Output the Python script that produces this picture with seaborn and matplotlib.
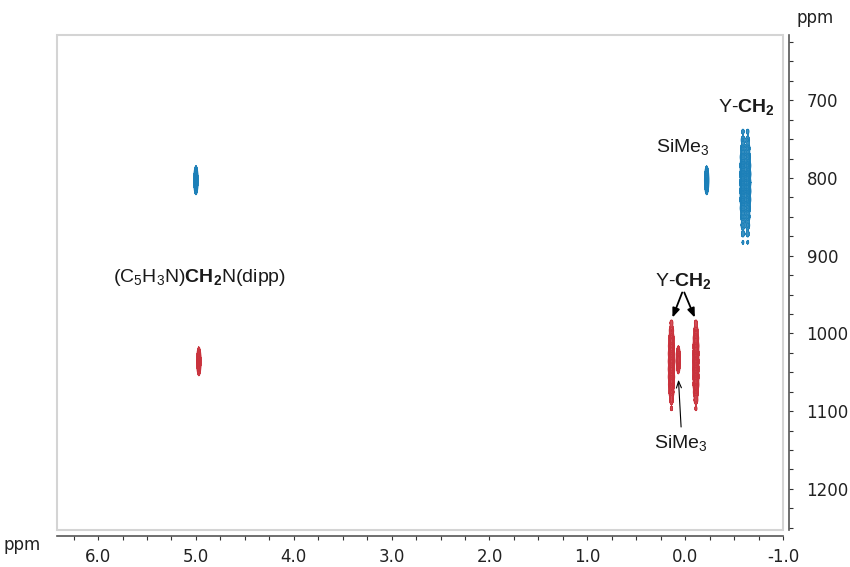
import numpy as np
import matplotlib
matplotlib.use("Agg")
import matplotlib.pyplot as plt
from matplotlib.patches import Rectangle
import seaborn as sns

# ---- data: cross peaks (1H ppm, 89Y ppm, relative intensity) ----
blue_x = [5.00, -0.22]
blue_y = [803, 803]
blue_amp = [1.0, 1.0]

# Y-CH2 multiplet of the blue species, two columns of fragments along 89Y
blue_ch2_x = [-0.59, -0.64]
blue_ch2_y = [740, 751, 762, 773, 784, 795, 806, 817, 828, 839, 850, 861, 872, 883]
blue_ch2_amp = [0.16, 0.22, 0.35, 0.55, 0.8, 0.95, 1.0, 0.95, 0.8, 0.55, 0.35, 0.25, 0.18, 0.14]

red_x = [4.97, 0.07]
red_y = [1036, 1034]
red_amp = [1.0, 0.9]

red_ch2_x = [0.14, -0.11]
red_ch2_y = [986, 996, 1006, 1016, 1026, 1036, 1046, 1056, 1066, 1076, 1086, 1097]
red_ch2_amp = [0.18, 0.3, 0.55, 0.8, 0.95, 1.0, 1.0, 0.95, 0.75, 0.45, 0.25, 0.15]

x_ticks = [6.0, 5.0, 4.0, 3.0, 2.0, 1.0, 0.0, -1.0]
x_labels = ["6.0", "5.0", "4.0", "3.0", "2.0", "1.0", "0.0", "-1.0"]
y_ticks = [700, 800, 900, 1000, 1100, 1200]

blue = "#1b7fb8"
red = "#c9323c"

sns.set_theme(style="white")
plt.rcParams["font.family"] = ["Liberation Sans", "DejaVu Sans"]
plt.rcParams["mathtext.fontset"] = "custom"
plt.rcParams["mathtext.rm"] = "Liberation Sans"
plt.rcParams["mathtext.bf"] = "Liberation Sans:bold"

# grid for the 2D spectrum
gx = np.linspace(-1.0, 6.45, 3800)
gy = np.linspace(615, 1255, 800)
sx, sy = 0.011, 9.0      # line widths of single peaks
msx, msy = 0.016, 3.6    # widths of multiplet fragments


def field(xs, ys, amps, wx, wy):
    z = np.zeros((gy.size, gx.size))
    for x0 in xs:
        ex = np.exp(-0.5 * ((gx - x0) / wx) ** 2)
        for y0, a in zip(ys, amps):
            ey = a * np.exp(-0.5 * ((gy - y0) / wy) ** 2)
            z += np.outer(ey, ex)
    return z


z_blue = field(blue_ch2_x, blue_ch2_y, blue_ch2_amp, msx, msy)
for x0, y0, a in zip(blue_x, blue_y, blue_amp):
    z_blue += field([x0], [y0], [a], sx, sy)
z_red = field(red_ch2_x, red_ch2_y, red_ch2_amp, msx, msy)
for x0, y0, a in zip(red_x, red_y, red_amp):
    z_red += field([x0], [y0], [a], sx, sy)

levels = [0.12, 0.2, 0.3, 0.42, 0.56, 0.72, 0.9]

fig = plt.figure(figsize=(8.5, 5.67), dpi=100)
ax = fig.add_axes([57 / 850, 1 - 530 / 567, (783 - 57) / 850, (530 - 35) / 567])

for z, c in [(z_blue, blue), (z_red, red)]:
    ax.contourf(gx, gy, z, levels=[levels[0], 100], colors=c, alpha=0.85)
    ax.contour(gx, gy, z, levels=levels, colors=c, linewidths=0.7)

ax.set_xlim(6.42, -1.0)
ax.set_ylim(1253, 616)

# light frame around the spectrum, dark axes offset outward
ax.add_patch(Rectangle((0, 0), 1, 1, transform=ax.transAxes, fill=False,
                       edgecolor="#d4d4d4", linewidth=1.5, clip_on=False, zorder=5))
sns.despine(ax=ax, left=True, top=True, right=False, bottom=False,
            offset={"bottom": 4, "right": 4})
for side in ["bottom", "right"]:
    ax.spines[side].set_color("#555555")
    ax.spines[side].set_linewidth(1.2)

ax.yaxis.tick_right()
ax.set_xticks(np.arange(-1.0, 6.42, 0.25), minor=True)
ax.set_xticks(x_ticks)
ax.set_xticklabels(x_labels)
ax.set_yticks(np.arange(625, 1251, 25), minor=True)
ax.set_yticks(y_ticks)
ax.tick_params(axis="both", which="both", direction="out", length=3, width=0.8,
               color="#333333", labelsize=12, labelcolor="#222222",
               bottom=True, right=True, left=False, top=False)
ax.tick_params(axis="x", which="major", pad=6)
ax.tick_params(axis="y", which="major", pad=10)
for lab in ax.get_xticklabels() + ax.get_yticklabels():
    lab.set_fontfamily("DejaVu Sans")

fig.text(815 / 850, 1 - 18 / 567, "ppm", ha="center", va="center",
         fontsize=12, family="DejaVu Sans", color="#222222")
fig.text(22 / 850, 1 - 545 / 567, "ppm", ha="center", va="center",
         fontsize=12, family="DejaVu Sans", color="#222222")

# labels
lab_kw = dict(ha="center", va="center", color="#1a1a1a", fontsize=14)
ax.text(-0.63, 709, r"Y-$\mathbf{CH_2}$", **lab_kw)
ax.text(0.02, 761, r"SiMe$_3$", **lab_kw)
ax.text(4.96, 928, r"(C$_5$H$_3$N)$\mathbf{CH_2}$N(dipp)", **lab_kw)
ax.text(0.02, 932, r"Y-$\mathbf{CH_2}$", **lab_kw)
ax.text(0.04, 1142, r"SiMe$_3$", **lab_kw)

arrow_kw = dict(arrowstyle="-|>,head_length=0.45,head_width=0.18", color="black", lw=1.3)
ax.annotate("", xy=(0.14, 983), xytext=(0.02, 944), arrowprops=arrow_kw)
ax.annotate("", xy=(-0.11, 983), xytext=(0.02, 944), arrowprops=arrow_kw)
ax.annotate("", xy=(0.07, 1056), xytext=(0.04, 1124),
            arrowprops=dict(arrowstyle="->,head_length=0.4,head_width=0.15",
                            color="black", lw=0.8))

fig.savefig("out.png", dpi=100)
